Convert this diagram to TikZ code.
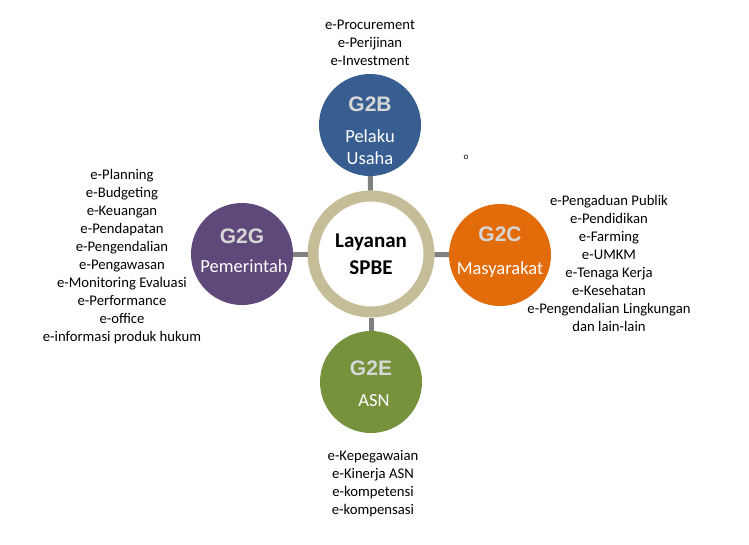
\documentclass[tikz,border=0pt]{standalone}
\usepackage{fontspec}
\setmainfont{Carlito}
\newfontfamily\arialfont{Liberation Sans}
\usetikzlibrary{positioning}
\definecolor{bluecirc}{RGB}{56,94,145}
\definecolor{purplecirc}{RGB}{94,73,122}
\definecolor{orangecirc}{RGB}{227,108,10}
\definecolor{greencirc}{RGB}{118,146,60}
\definecolor{ringcol}{RGB}{196,189,151}
\definecolor{titlegrey}{RGB}{215,215,215}
\tikzset{
  sat/.style={circle, minimum size=102pt, inner sep=0pt, text=white, align=center,
    font=\fontsize{18.5}{22}\selectfont},
  link/.style={draw=gray, line width=5pt},
  list/.style={align=center, font=\fontsize{14.7}{18}\selectfont, inner sep=0pt}
}
\newcommand{\ghead}[1]{{\arialfont\bfseries\fontsize{21}{24}\selectfont\textcolor{titlegrey}{#1}}}
\begin{document}
\begin{tikzpicture}[x=1pt,y=-1pt]
    \useasboundingbox (0,0) rectangle (749,544);
    % hub
    \node (hub) [circle, draw=ringcol, line width=11pt, fill=white, minimum size=116pt,
      align=center, font=\bfseries\fontsize{21}{27}\selectfont] at (371,254) {Layanan\\SPBE};
    % satellites
    \node (g2b) [sat, fill=bluecirc] at (370,125) {};
    \node (g2g) [sat, fill=purplecirc] at (242,254) {};
    \node (g2c) [sat, fill=orangecirc] at (500,255) {};
    \node (g2e) [sat, fill=greencirc] at (371,382) {};
    \node at (370,104) {\ghead{G2B}};
    \node [align=center, text=white, font=\fontsize{18.5}{22}\selectfont] at (370,147) {Pelaku\\Usaha};
    \node at (242,236) {\ghead{G2G}};
    \node [text=white, font=\fontsize{18.5}{22}\selectfont] at (244,266) {Pemerintah};
    \node at (500,234) {\ghead{G2C}};
    \node [text=white, font=\fontsize{18.5}{22}\selectfont] at (500,270) {Masyarakat};
    \node at (371,368) {\ghead{G2E}};
    \node [text=white, font=\fontsize{18.5}{22}\selectfont] at (374,401) {ASN};
    % connectors
    \draw [link] (hub) -- (g2b);
    \draw [link] (hub) -- (g2g);
    \draw [link] (hub) -- (g2c);
    \draw [link] (hub) -- (g2e);
    % lists
    \node (lb) [list, above=8pt of g2b] {e-Procurement\\e-Perijinan\\e-Investment};
    \node (lg) [list] at (122,257) {e-Planning\\e-Budgeting\\e-Keuangan\\e-Pendapatan\\e-Pengendalian\\e-Pengawasan\\e-Monitoring Evaluasi\\e-Performance\\e-office\\e-informasi produk hukum};
    \node (lc) [list] at (609,263) {e-Pengaduan Publik\\e-Pendidikan\\e-Farming\\e-UMKM\\e-Tenaga Kerja\\e-Kesehatan\\e-Pengendalian Lingkungan\\dan lain-lain};
    \node (le) [list] at (373,484) {e-Kepegawaian\\e-Kinerja ASN\\e-kompetensi\\e-kompensasi};
    \node (dot) [font=\fontsize{9}{9}\selectfont] at (466,157) {o};
\end{tikzpicture}
\end{document}
